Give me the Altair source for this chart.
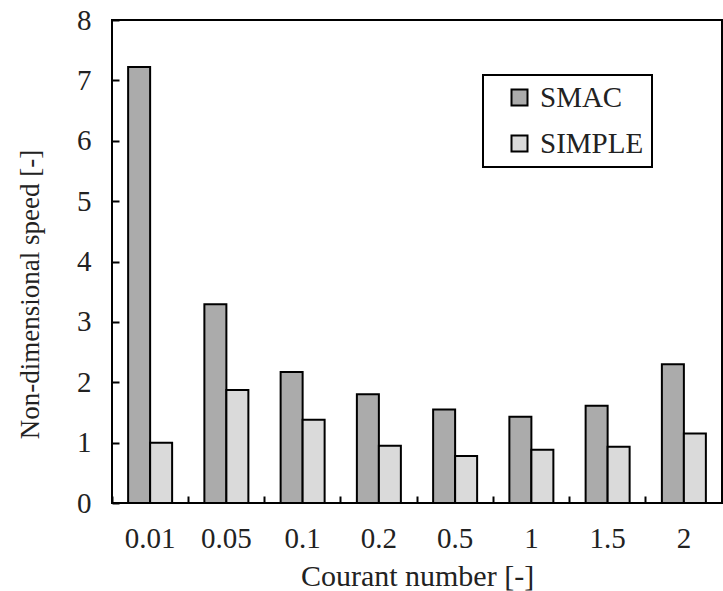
import altair as alt
import pandas as pd

courant = ["0.01", "0.05", "0.1", "0.2", "0.5", "1", "1.5", "2"]
smac = [7.22, 3.29, 2.17, 1.80, 1.55, 1.43, 1.61, 2.30]
simple = [1.00, 1.87, 1.38, 0.95, 0.78, 0.88, 0.93, 1.15]
series = ["SMAC", "SIMPLE"]

rows = []
for c, a, b in zip(courant, smac, simple):
    rows.append({"courant": c, "method": "SMAC", "speed": a})
    rows.append({"courant": c, "method": "SIMPLE", "speed": b})
df = pd.DataFrame(rows)

FONT = "Liberation Serif"
TXT = "#222222"

chart = alt.Chart(df).mark_bar(stroke="black", strokeWidth=2).encode(
    x=alt.X(
        "courant:N",
        sort=courant,
        scale=alt.Scale(paddingInner=0, paddingOuter=0),
        axis=alt.Axis(
            title="Courant number [-]",
            labelAngle=0,
            bandPosition=0,
            domain=False,
            offset=-7,
            tickSize=7,
            tickWidth=2,
            tickColor="black",
            labelPadding=21,
            titlePadding=8,
            titleFontSize=30,
        ),
    ),
    xOffset=alt.XOffset(
        "method:N", sort=series, scale=alt.Scale(paddingInner=0, paddingOuter=0.733)
    ),
    y=alt.Y(
        "speed:Q",
        scale=alt.Scale(domain=[0, 8]),
        axis=alt.Axis(
            title="Non-dimensional speed [-]",
            values=[0, 1, 2, 3, 4, 5, 6, 7, 8],
            grid=False,
            domain=False,
            offset=-7,
            tickSize=7,
            tickWidth=2,
            tickColor="black",
            labelPadding=21,
            titlePadding=32,
            titleFontSize=27,
            titleY=274,
        ),
    ),
    fill=alt.Fill(
        "method:N",
        sort=series,
        scale=alt.Scale(domain=series, range=["#ababab", "#dadada"]),
        legend=alt.Legend(
            title=None,
            orient="none",
            legendX=371,
            legendY=55,
            symbolType="square",
            symbolSize=256,
            symbolStrokeColor="black",
            symbolStrokeWidth=2,
            symbolOffset=14,
            labelOffset=6,
            labelFontSize=29,
            labelFont=FONT,
            labelColor=TXT,
            labelExpr="datum.label + '       '",
            rowPadding=16,
            padding=8,
            strokeColor="black",
            fillColor="white",
        ),
    ),
).properties(
    width=610,
    height=483,
    autosize=alt.AutoSizeParams(type="none"),
    padding={"left": 112, "top": 20, "right": 1, "bottom": 88},
    background="white",
).configure_view(
    stroke="black", strokeWidth=2
).configure_axis(
    labelFont=FONT,
    titleFont=FONT,
    labelFontSize=29,
    labelColor=TXT,
    titleColor=TXT,
    titleFontWeight="normal",
).configure_legend(
    strokeWidth=2
)

chart.save("out.html", embed_options={"renderer": "svg", "actions": False})
